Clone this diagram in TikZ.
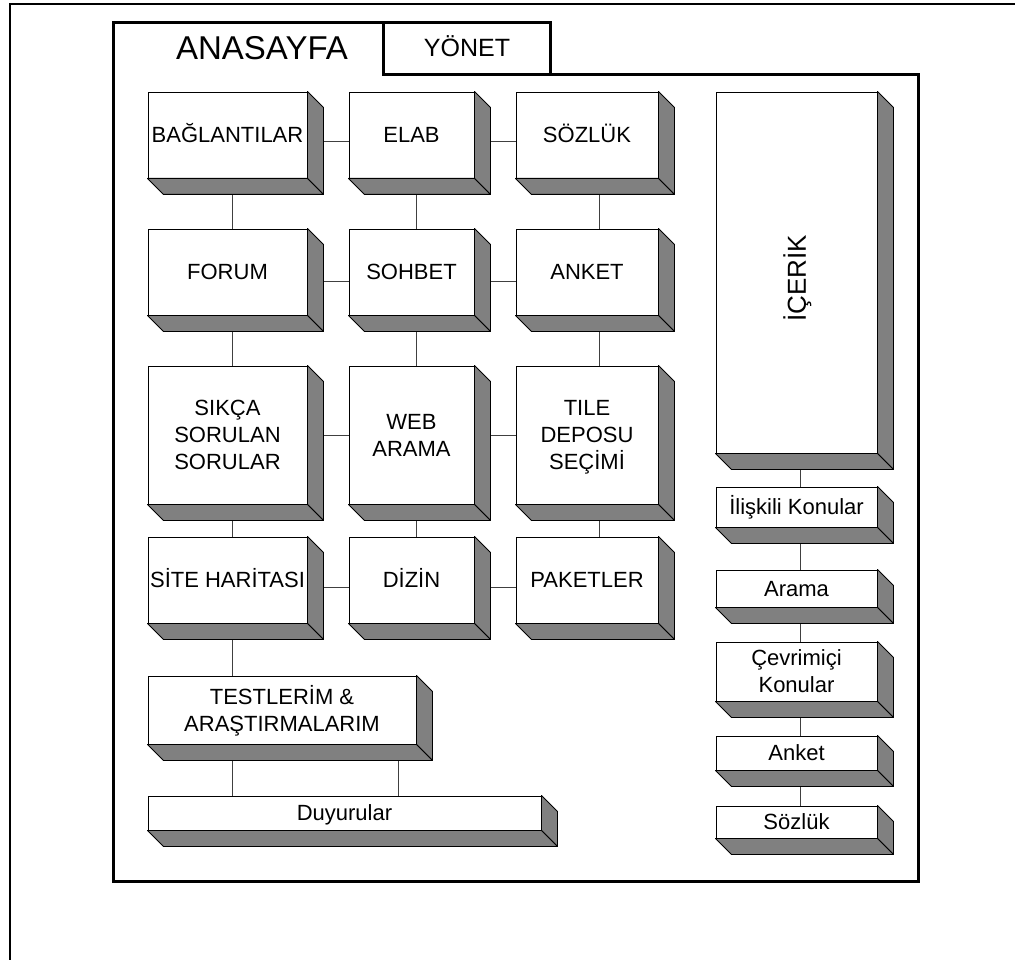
\documentclass[tikz,border=0pt]{standalone}
\usepackage{fontspec}
\setmainfont{Liberation Sans}
\usetikzlibrary{backgrounds}
\definecolor{shadegray}{RGB}{128,128,128}
\newcommand\capstrut{\vrule width0pt height 0.716em depth 0pt\relax}
\newcommand\cl[1]{\smash{#1}\capstrut}
\tikzset{
  tdface/.style={draw=black, line width=0.9pt, fill=white, inner sep=0pt, align=center, font=\fontsize{22}{27}\selectfont},
  tdside/.style={draw=black, line width=0.9pt, fill=shadegray, line join=round},
  conn/.style={draw=black!75, line width=1pt},
  panel/.style={line width=3pt, line join=miter},
  outerframe/.style={line width=2pt},
  lbl/.style={font=\fontsize{26}{30}\selectfont, inner sep=0pt},
}
\newcommand\tdb[6]{%
  \node[tdface, minimum width={(#4-#2)*1pt}, minimum height={(#5-#3)*1pt}] (#1) at ({(#2+#4)/2},{(#3+#5)/2}) {#6};
  \filldraw[tdside] (#1.north east) -- ([shift={(16,16)}]#1.north east) -- ([shift={(16,16)}]#1.south east) -- (#1.south east) -- cycle;
  \filldraw[tdside] (#1.south west) -- (#1.south east) -- ([shift={(16,16)}]#1.south east) -- ([shift={(16,16)}]#1.south west) -- cycle;
}
\begin{document}
\begin{tikzpicture}[x=1pt,y=-1pt]
\useasboundingbox (0,0) rectangle (1015,960);
% outer frame (top and left only)
\draw[outerframe] (10,960) -- (10,4) -- (1015,4);
% panel with tabs
\draw[panel] (113,881) -- (113,23) -- (383,23) -- (383,75) -- (918,75) -- (918,881) -- cycle;
\draw[panel] (383,23) -- (550,23) -- (550,75);
\node[font=\fontsize{33}{36}\selectfont, inner sep=0pt] (anasayfa) at (262,48) {\cl{ANASAYFA}};
\node[font=\fontsize{25}{28}\selectfont, inner sep=0pt] (yonet) at (467,48) {\cl{YÖNET}};
% grid
\tdb{baglantilar}{148}{92}{307}{178}{\cl{BAĞLANTILAR}}
\tdb{elab}{349}{92}{474}{178}{\cl{ELAB}}
\tdb{sozluk}{516}{92}{658}{178}{\cl{SÖZLÜK}}
\tdb{forum}{148}{229}{307}{315}{\cl{FORUM}}
\tdb{sohbet}{349}{229}{474}{315}{\cl{SOHBET}}
\tdb{anket}{516}{229}{658}{315}{\cl{ANKET}}
\tdb{sss}{148}{366}{307}{504}{\cl{SIKÇA}\\\cl{SORULAN}\\\cl{SORULAR}}
\tdb{web}{349}{366}{474}{504}{\cl{WEB}\\\cl{ARAMA}}
\tdb{tile}{516}{366}{658}{504}{\cl{TILE}\\\cl{DEPOSU}\\\cl{SEÇİMİ}}
\tdb{site}{148}{537}{307}{623}{\cl{SİTE HARİTASI}}
\tdb{dizin}{349}{537}{474}{623}{\cl{DİZİN}}
\tdb{paketler}{516}{537}{658}{623}{\cl{PAKETLER}}
\tdb{testler}{148}{676}{416}{744}{\cl{TESTLERİM \&}\\\cl{ARAŞTIRMALARIM}}
\tdb{duyurular}{148}{796}{541}{830}{\cl{Duyurular}}
% right column
\tdb{icerik}{716}{92}{877}{453}{}
\node[lbl, rotate=90] (icerikt) at ([yshift=-6pt]icerik.center) {\cl{İÇERİK}};
\tdb{iliskili}{716}{487}{877}{527}{\cl{İlişkili Konular}}
\tdb{arama}{716}{570}{877}{607}{\cl{Arama}}
\tdb{cevrim}{716}{642}{877}{701}{\cl{Çevrimiçi}\\\cl{Konular}}
\tdb{anket2}{716}{736}{877}{770}{\cl{Anket}}
\tdb{sozluk2}{716}{806}{877}{838}{\cl{Sözlük}}
% connectors
\begin{pgfonlayer}{background}
  % horizontal
  \draw[conn] ([yshift=-7pt]baglantilar.east) -- ([yshift=-7pt]elab.west);
  \draw[conn] ([yshift=-7pt]elab.east) -- ([yshift=-7pt]sozluk.west);
  \draw[conn] ([yshift=-9pt]forum.east) -- ([yshift=-9pt]sohbet.west);
  \draw[conn] ([yshift=-9pt]sohbet.east) -- ([yshift=-9pt]anket.west);
  \draw[conn] (sss.east) -- (web.west);
  \draw[conn] (web.east) -- (tile.west);
  \draw[conn] ([yshift=-7pt]site.east) -- ([yshift=-7pt]dizin.west);
  \draw[conn] ([yshift=-7pt]dizin.east) -- ([yshift=-7pt]paketler.west);
  % vertical col 1
  \draw[conn] ([xshift=4.5pt]baglantilar.south) -- ([xshift=4.5pt]forum.north);
  \draw[conn] ([xshift=4.5pt]forum.south) -- ([xshift=4.5pt]sss.north);
  \draw[conn] ([xshift=4.5pt]sss.south) -- ([xshift=4.5pt]site.north);
  \draw[conn] ([xshift=4.5pt]site.south) -- ([xshift=4.5pt]site.south |- testler.north);
  % vertical col 2
  \draw[conn] ([xshift=4.5pt]elab.south) -- ([xshift=4.5pt]sohbet.north);
  \draw[conn] ([xshift=4.5pt]sohbet.south) -- ([xshift=4.5pt]web.north);
  \draw[conn] ([xshift=4.5pt]web.south) -- ([xshift=4.5pt]dizin.north);
  % vertical col 3
  \draw[conn] ([xshift=12pt]sozluk.south) -- ([xshift=12pt]anket.north);
  \draw[conn] ([xshift=12pt]anket.south) -- ([xshift=12pt]tile.north);
  \draw[conn] ([xshift=12pt]tile.south) -- ([xshift=12pt]paketler.north);
  % testler to duyurular
  \draw[conn] ([xshift=-50pt]testler.south) -- ([xshift=-50pt]testler.south |- duyurular.north);
  \draw[conn] ([xshift=116pt]testler.south) -- ([xshift=116pt]testler.south |- duyurular.north);
  % right column
  \draw[conn] ([xshift=3.5pt]icerik.south) -- ([xshift=3.5pt]iliskili.north);
  \draw[conn] ([xshift=3.5pt]iliskili.south) -- ([xshift=3.5pt]arama.north);
  \draw[conn] ([xshift=3.5pt]arama.south) -- ([xshift=3.5pt]cevrim.north);
  \draw[conn] ([xshift=3.5pt]cevrim.south) -- ([xshift=3.5pt]anket2.north);
  \draw[conn] ([xshift=3.5pt]anket2.south) -- ([xshift=3.5pt]sozluk2.north);
\end{pgfonlayer}
\end{tikzpicture}
\end{document}
